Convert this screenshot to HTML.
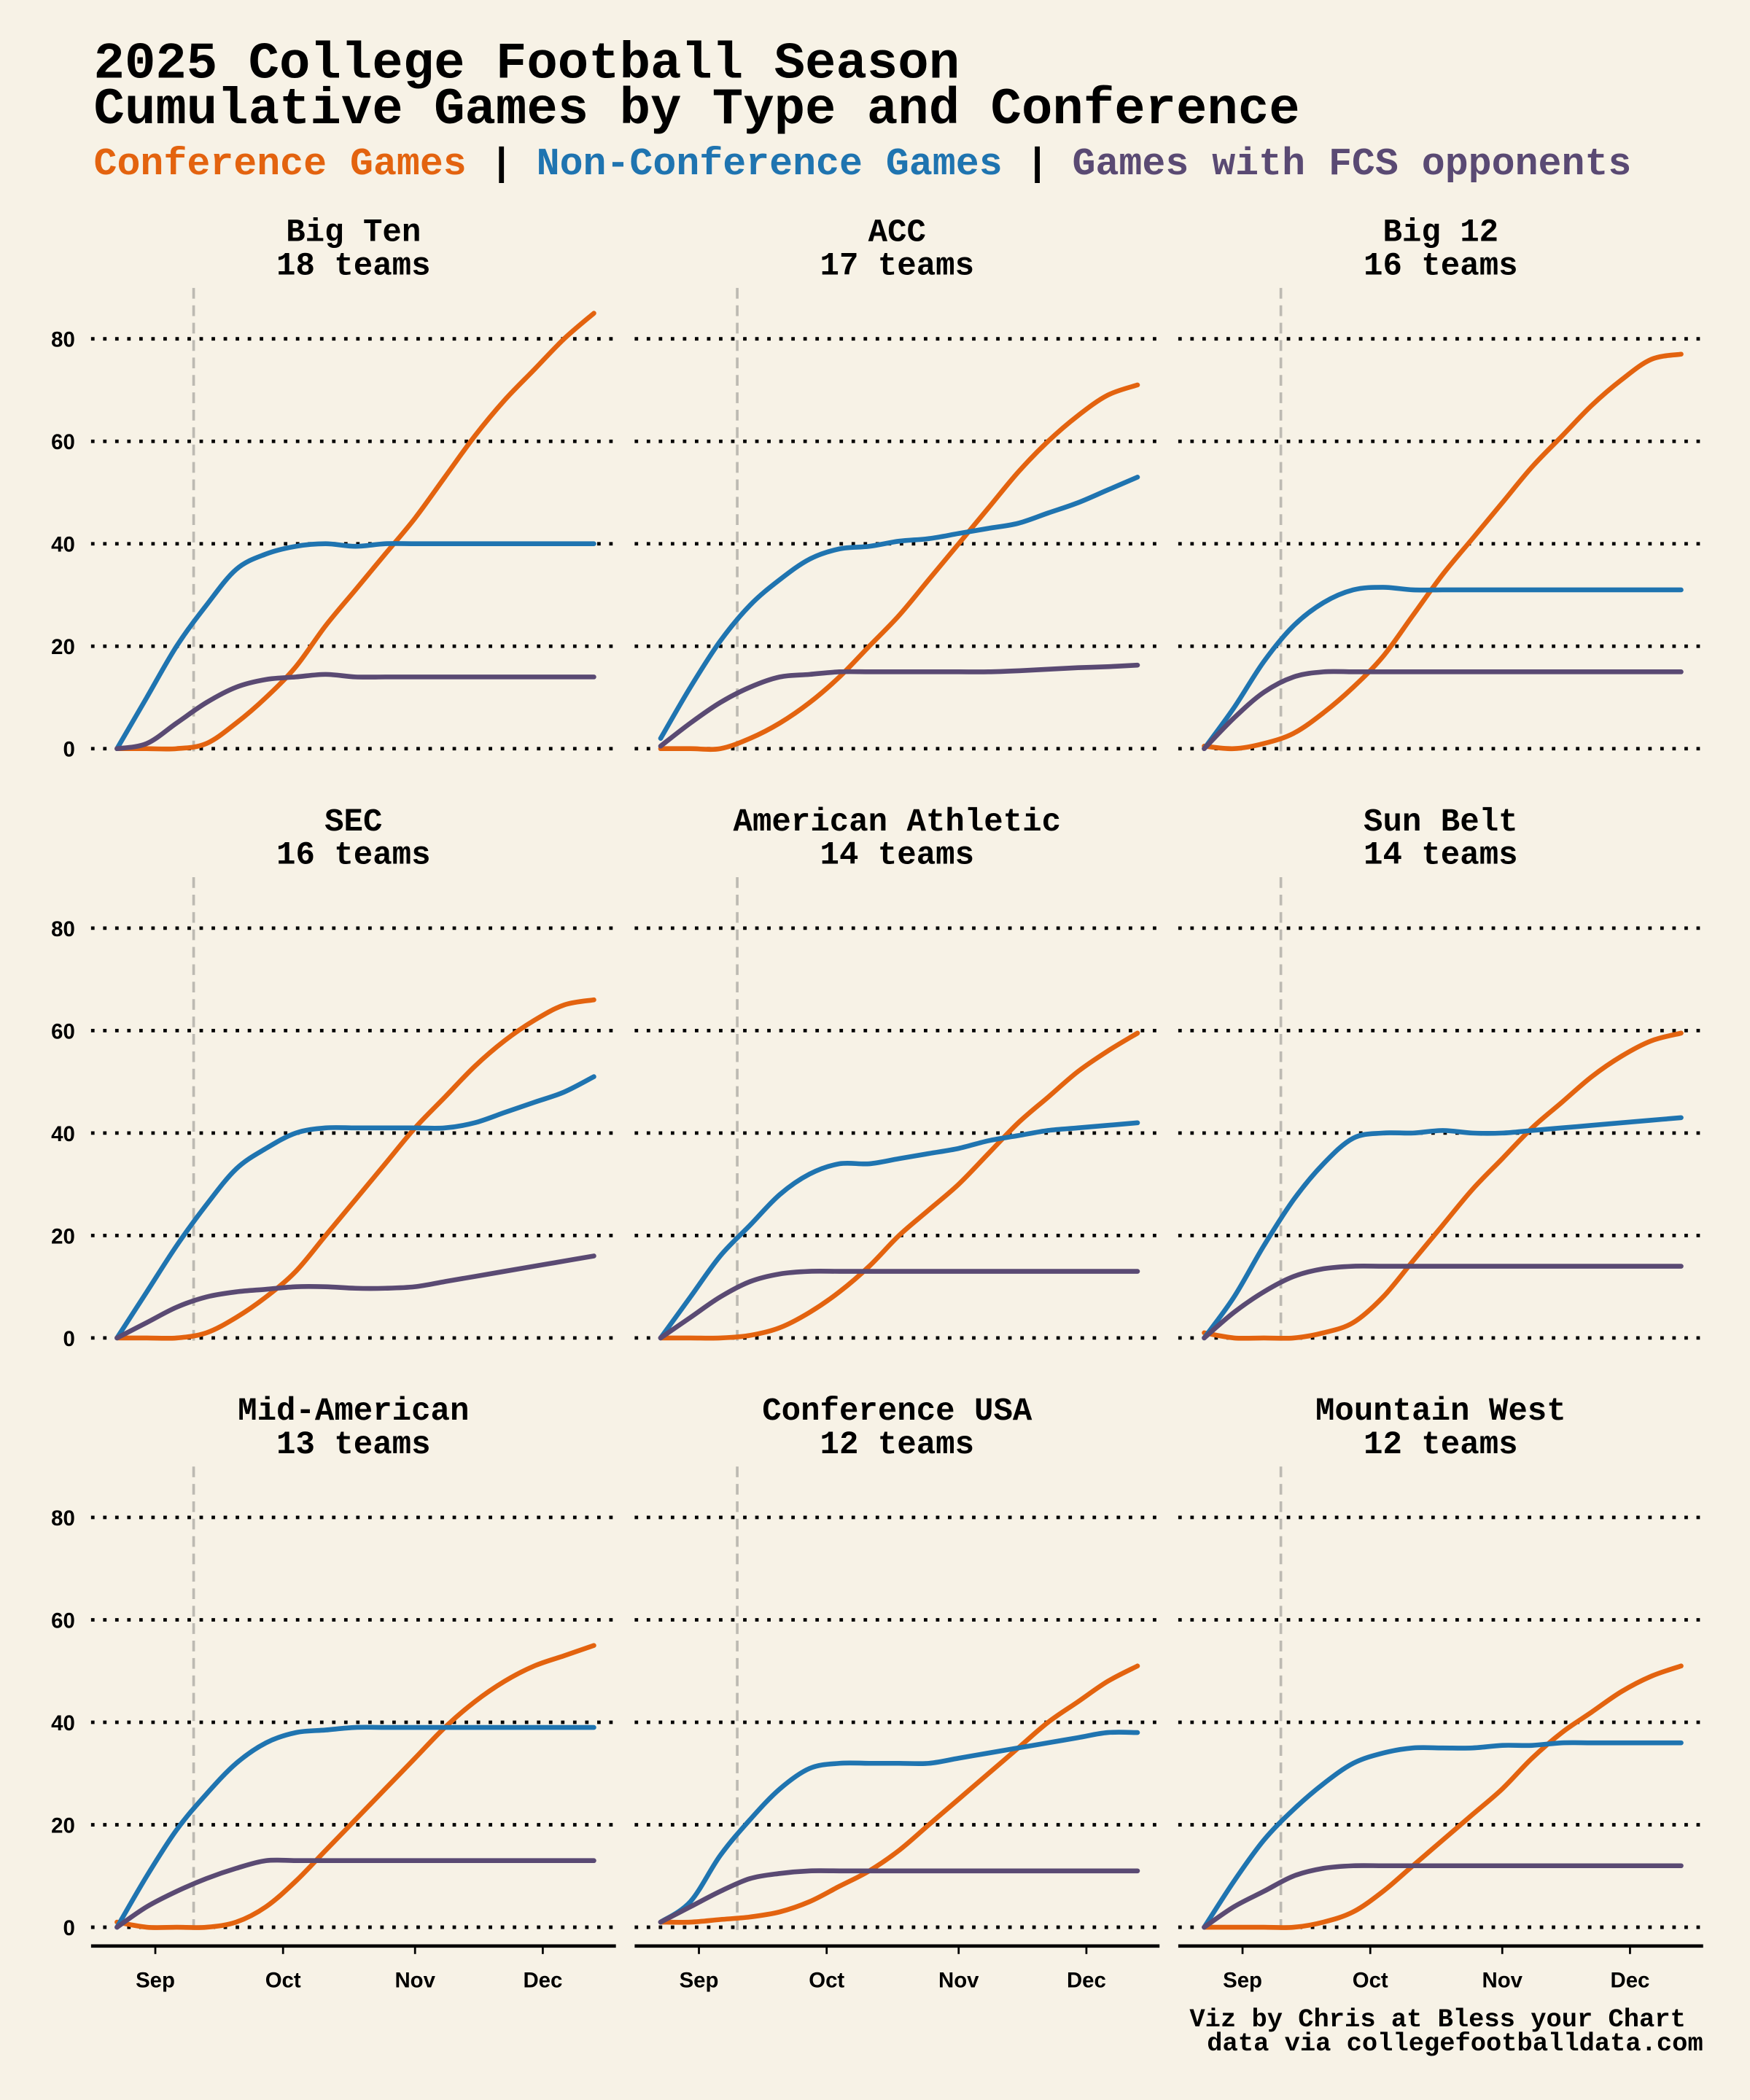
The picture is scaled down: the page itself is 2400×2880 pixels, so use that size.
<!DOCTYPE html>
<html><head><meta charset="utf-8">
<style>
html,body{margin:0;padding:0;background:#f7f2e6;}
svg{display:block;}
.mono{font-family:"Liberation Mono",monospace;font-weight:bold;}
.sans{font-family:"Liberation Sans",sans-serif;font-weight:bold;}
</style></head>
<body>
<svg id="chart" width="2400" height="2880" viewBox="0 0 1307 1568" preserveAspectRatio="none" xmlns="http://www.w3.org/2000/svg">
<rect width="1307" height="1568" fill="#f7f2e6"/>
<text class="mono" x="70" y="58" font-size="38.5" fill="#000">2025 College Football Season</text>
<text class="mono" x="70" y="92" font-size="38.5" fill="#000">Cumulative Games by Type and Conference</text>
<text class="mono" x="70" y="130" font-size="29"><tspan fill="#e3630f">Conference Games</tspan><tspan fill="#000"> | </tspan><tspan fill="#1f74b0">Non-Conference Games</tspan><tspan fill="#000"> | </tspan><tspan fill="#5a4a73">Games with FCS opponents</tspan></text>
<g id="panels"></g>
<text class="mono" x="1259" y="1513" font-size="19.3" text-anchor="end" fill="#000">Viz by Chris at Bless your Chart</text>
<text class="mono" x="1272" y="1531" font-size="19.3" text-anchor="end" fill="#000">data via collegefootballdata.com</text>
</svg>
<script>
// dates as days relative to Sep 1 (weekly from Aug 23 to Dec 13)
const dayOffsets = [-9,-2,5,12,19,26,33,40,47,54,61,68,75,82,89,96,103];
const yTicks = [0,20,40,60,80];
const monthLabels = ["Sep","Oct","Nov","Dec"];
const monthDays = [0,30,61,91];
const conferences = ["Big Ten","ACC","Big 12","SEC","American Athletic","Sun Belt","Mid-American","Conference USA","Mountain West"];
const teamCounts = [18,17,16,16,14,14,13,12,12];
const confGames = [
 [0,0,0,1,5,10,16,24,31,38,45,53,61,68,74,80,85],
 [0,0,0,2,5,9,14,20,26,33,40,47,54,60,65,69,71],
 [0.5,0,1,3,7,12,18,26,34,41,48,55,61,67,72,76,77],
 [0,0,0,1,4,8,13,20,27,34,41,47,53,58,62,65,66],
 [0,0,0,0.5,2,5,9,14,20,25,30,36,42,47,52,56,59.5],
 [1,0,0,0,1,3,8,15,22,29,35,41,46,51,55,58,59.5],
 [1,0,0,0,1,4,9,15,21,27,33,39,44,48,51,53,55],
 [1,1,1.5,2,3,5,8,11,15,20,25,30,35,40,44,48,51],
 [0,0,0,0,1,3,7,12,17,22,27,33,38,42,46,49,51]
];
const nonConfGames = [
 [0,10,20,28,35,38,39.5,40,39.5,40,40,40,40,40,40,40,40],
 [2,12,21,28,33,37,39,39.5,40.5,41,42,43,44,46,48,50.5,53],
 [0,8,17,24,28.5,31,31.5,31,31,31,31,31,31,31,31,31,31],
 [0,9,18,26,33,37,40,41,41,41,41,41,42,44,46,48,51],
 [0,8,16,22,28,32,34,34,35,36,37,38.5,39.5,40.5,41,41.5,42],
 [0,8,18,27,34,39,40,40,40.5,40,40,40.5,41,41.5,42,42.5,43],
 [0,10,19,26,32,36,38,38.5,39,39,39,39,39,39,39,39,39],
 [1,5,14,21,27,31,32,32,32,32,33,34,35,36,37,38,38],
 [0,9,17,23,28,32,34,35,35,35,35.5,35.5,36,36,36,36,36]
];
const fcsGames = [
 [0,1,5,9,12,13.5,14,14.5,14,14,14,14,14,14,14,14,14],
 [0.5,5,9,12,14,14.5,15,15,15,15,15,15,15.2,15.5,15.8,16,16.3],
 [0,6,11,14,15,15,15,15,15,15,15,15,15,15,15,15,15],
 [0,3,6,8,9,9.5,10,10,9.7,9.7,10,11,12,13,14,15,16],
 [0,4,8,11,12.5,13,13,13,13,13,13,13,13,13,13,13,13],
 [0,5,9,12,13.5,14,14,14,14,14,14,14,14,14,14,14,14],
 [0,4,7,9.5,11.5,13,13,13,13,13,13,13,13,13,13,13,13],
 [1,4,7,9.5,10.5,11,11,11,11,11,11,11,11,11,11,11,11],
 [0,4,7,10,11.5,12,12,12,12,12,12,12,12,12,12,12,12]
];
const seasonStartDay = 9;

const NS="http://www.w3.org/2000/svg";
const root=document.getElementById('panels');
function mk(tag,attrs,parent){const e=document.createElementNS(NS,tag);for(const k in attrs)e.setAttribute(k,attrs[k]);parent.appendChild(e);return e;}
function smoothPath(pts){
  let d="M"+pts[0][0].toFixed(2)+","+pts[0][1].toFixed(2);
  for(let i=0;i<pts.length-1;i++){
    const p0=pts[Math.max(0,i-1)],p1=pts[i],p2=pts[i+1],p3=pts[Math.min(pts.length-1,i+2)];
    const c1=[p1[0]+(p2[0]-p0[0])/6,p1[1]+(p2[1]-p0[1])/6];
    const c2=[p2[0]-(p3[0]-p1[0])/6,p2[1]-(p3[1]-p1[1])/6];
    d+=" C"+c1[0].toFixed(2)+","+c1[1].toFixed(2)+" "+c2[0].toFixed(2)+","+c2[1].toFixed(2)+" "+p2[0].toFixed(2)+","+p2[1].toFixed(2);
  }
  return d;
}
const colX0=[68,474,880], rowY0=[559,999,1439];
const pxPerDay=3.18, pxPerUnit=3.825;
const seriesDefs=[[confGames,"#e3630f","conference-line"],[nonConfGames,"#1f74b0","non-conference-line"],[fcsGames,"#5a4a73","fcs-line"]];
conferences.forEach((name,i)=>{
  const c=i%3,r=Math.floor(i/3);
  const left=colX0[c], right=left+392, y0=rowY0[r];
  const sx=d=>left+48+d*pxPerDay;
  const sy=v=>y0-v*pxPerUnit;
  const g=mk('g',{},root);
  
  
  const t1=mk('text',{x:left+196,y:y0-379,'font-size':24,'text-anchor':'middle',class:'mono',fill:'#000'},g);
  t1.textContent=name;
  
  
  const t2=mk('text',{x:left+196,y:y0-354,'font-size':24,'text-anchor':'middle',class:'mono',fill:'#000'},g);
  t2.textContent=teamCounts[i]+" teams";
  
  
  yTicks.forEach(v=>{
    const l=mk('line',{x1:left,x2:right,y1:sy(v),y2:sy(v),stroke:'#000','stroke-width':2.6,'stroke-dasharray':'2.6,6.4','stroke-linecap':'butt'},g);
    
    
    if(c===0){
      const tl=mk('text',{x:left-12,y:sy(v)+6,'font-size':16,'text-anchor':'end',class:'sans',fill:'#000'},g);
      tl.textContent=v;
      
      
    }
  });
  const vl=mk('line',{x1:sx(seasonStartDay),x2:sx(seasonStartDay),y1:y0-344,y2:y0+6,stroke:'#bdbab2','stroke-width':2,'stroke-dasharray':'8,5'},g);
  
  
  if(r===2){
    const ax=mk('line',{x1:left,x2:right,y1:y0+14,y2:y0+14,stroke:'#000','stroke-width':2.5},g);
    
    
    monthLabels.forEach((m,k)=>{
      const tk=mk('line',{x1:sx(monthDays[k]),x2:sx(monthDays[k]),y1:y0+14,y2:y0+20,stroke:'#000','stroke-width':1.5},g);
      
      
      const ml=mk('text',{x:sx(monthDays[k]),y:y0+45,'font-size':16,'text-anchor':'middle',class:'sans',fill:'#000'},g);
      ml.textContent=m;
      
      
    });
  }
  seriesDefs.forEach(([arr,col,nm])=>{
    const pts=arr[i].map((v,k)=>[sx(dayOffsets[k]),sy(v)]);
    const p=mk('path',{d:smoothPath(pts),fill:'none',stroke:col,'stroke-width':3.6,'stroke-linejoin':'round','stroke-linecap':'round'},g);
    
    
  });
});
</script>
</body></html>
